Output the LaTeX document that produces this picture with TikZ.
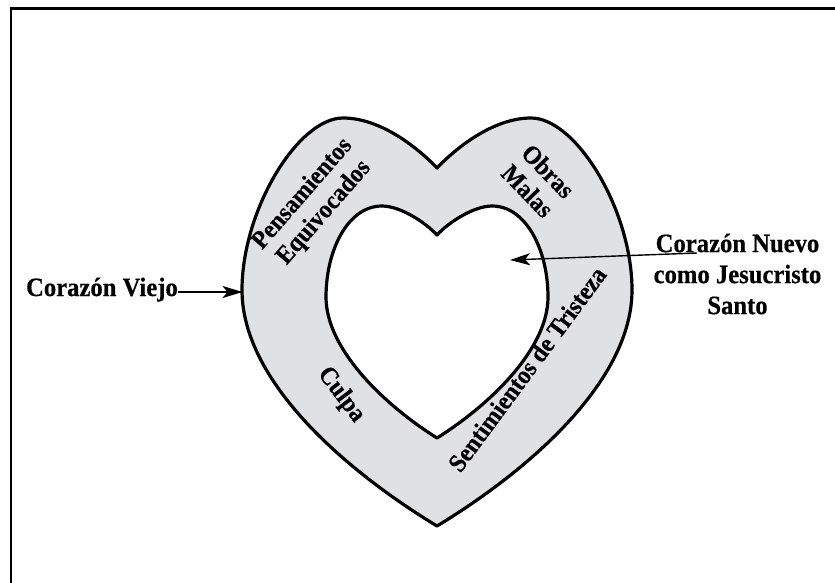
\documentclass[tikz,border=0pt]{standalone}
\usepackage{fontspec}
\setmainfont{Liberation Serif}[BoldFeatures={FakeStretch=0.93,FakeBold=0.5}]
\usetikzlibrary{arrows.meta}
\definecolor{heartgray}{RGB}{224,225,227}
\tikzset{
  lbl/.style={font=\fontsize{25.5}{28.5}\selectfont\bfseries, inner sep=0pt, align=center},
  outlbl/.style={font=\fontsize{26.5}{31}\selectfont\bfseries, inner sep=0pt, align=center},
  heartline/.style={line width=3.2pt, line join=round},
  arr/.style={line width=1.8pt, -{Stealth[length=20pt,width=12pt,inset=5pt]}},
  arrthin/.style={line width=1.4pt, -{Stealth[length=20pt,width=12pt,inset=5pt]}}
}
\begin{document}
\begin{tikzpicture}[x=1pt,y=-1pt]
\useasboundingbox (0,0) rectangle (835,582);
\fill[white] (0,0) rectangle (835,582);
% frame
\draw[line width=2.2pt] (11,590) -- (11,8.5) -- (845,8.5);
% heart ring
\def\outerheart{(437,168) .. controls (420,150) and (382,118) .. (343,118)
  .. controls (298,118) and (242,210) .. (242,290)
  .. controls (242,380) and (343,469) .. (437,526)
  .. controls (531,469) and (632,380) .. (632,290)
  .. controls (632,210) and (576,118) .. (531,118)
  .. controls (492,118) and (454,150) .. (437,168) -- cycle}
\def\innerheart{(437,235) .. controls (425,222) and (400,206) .. (382,206)
  .. controls (348,206) and (326,250) .. (326,297)
  .. controls (326,350) and (386,406) .. (437,438)
  .. controls (488,406) and (548,350) .. (548,297)
  .. controls (548,250) and (526,206) .. (492,206)
  .. controls (474,206) and (449,222) .. (437,235) -- cycle}
\fill[heartgray, even odd rule] \outerheart \innerheart;
\draw[heartline] \outerheart;
\draw[heartline] \innerheart;
% labels in ring
\node[lbl, rotate=49] (pens) at (313.5,203.5) {Pensamientos\\Equivocados};
\node[lbl, rotate=-46] (obras) at (538,181) {Obras\\Malas};
\node[lbl, rotate=-53] (culpa) at (341,395) {Culpa};
\node[lbl, rotate=53.5] (sent) at (527,369) {Sentimientos de Tristeza};
% outside labels
\node[outlbl, anchor=base east] (viejo) at (178,296) {Corazón Viejo};
\coordinate (viejotip) at (242.5,292);
\draw[arr] ([yshift=4pt]viejo.base east) -- (viejotip);
\node[outlbl] (nuevo) at (737.5,274) {Corazón Nuevo\\como Jesucristo\\Santo};
\coordinate (nuevostart) at (697,253);
\coordinate (nuevotip) at (510,260);
\draw[arrthin] (nuevostart) -- (nuevotip);
\end{tikzpicture}
\end{document}
